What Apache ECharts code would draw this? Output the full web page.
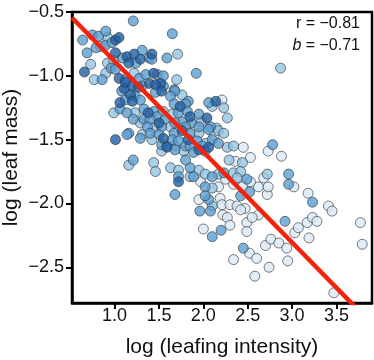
<!DOCTYPE html>
<html>
<head>
<meta charset="utf-8">
<script src="https://cdn.jsdelivr.net/npm/echarts@6/dist/echarts.min.js"></script>
<style>
  html, body { margin: 0; padding: 0; background: #fff; }
  #chart { width: 374px; height: 360px; }
</style>
</head>
<body>
<div id="chart"></div>
<script>
// [log leafing intensity, log leaf mass], grouped by colour shade
var darkPoints = [
    [1.01, -0.72], [1.05, -0.70], [1.14, -0.85], [1.22, -0.83], [1.29, -0.87], [1.16, -0.90],
    [1.05, -1.02], [1.39, -1.06], [1.11, -1.10], [1.20, -1.08], [1.42, -0.83], [1.44, -0.98],
    [1.52, -1.06], [1.46, -1.07], [1.12, -1.05], [1.27, -1.09], [1.18, -1.15], [1.53, -1.12],
    [1.06, -1.21], [1.20, -1.20], [1.38, -1.29], [1.50, -1.37], [1.55, -1.49], [1.01, -1.50],
    [1.74, -1.24], [2.14, -1.20], [1.85, -1.32], [2.04, -1.33], [1.76, -1.43], [1.83, -1.50],
    [2.06, -1.56], [1.95, -1.58], [1.59, -1.56], [1.72, -1.83], [0.66, -0.97], [1.01, -0.82]
];
var midPoints = [
    [1.21, -0.57], [0.64, -0.72], [0.75, -0.68], [0.82, -0.69], [0.90, -0.65], [0.69, -0.82],
    [0.79, -0.78], [0.90, -0.76], [0.97, -0.74], [0.86, -1.03], [0.96, -0.94], [1.01, -0.95],
    [1.09, -0.86], [1.31, -0.80], [1.24, -0.90], [1.39, -0.86], [1.12, -1.03], [1.28, -1.02],
    [1.35, -0.99], [1.31, -1.08], [1.65, -0.67], [1.59, -0.86], [1.92, -0.98], [1.42, -0.87],
    [1.48, -0.99], [1.55, -1.08], [1.67, -1.11], [1.55, -1.00], [1.08, -1.12], [1.23, -1.16],
    [1.46, -1.13], [1.12, -1.19], [1.29, -1.19], [1.06, -1.26], [1.14, -1.29], [1.33, -1.26],
    [1.44, -1.28], [1.48, -1.32], [1.57, -1.34], [1.21, -1.34], [1.33, -1.34], [1.40, -1.34],
    [1.53, -1.40], [1.37, -1.40], [1.16, -1.45], [1.14, -1.46], [1.40, -1.45], [1.50, -1.46],
    [1.29, -1.49], [1.53, -1.54], [1.59, -1.55], [1.68, -1.12], [1.63, -1.16], [1.83, -1.20],
    [1.80, -1.22], [1.67, -1.22], [2.06, -1.21], [1.72, -1.29], [1.82, -1.28], [1.95, -1.30],
    [1.76, -1.36], [1.87, -1.37], [1.68, -1.37], [1.80, -1.40], [1.95, -1.40], [2.08, -1.40],
    [1.67, -1.45], [1.85, -1.45], [2.06, -1.42], [1.65, -1.50], [1.72, -1.51], [1.93, -1.51],
    [2.10, -1.50], [2.17, -1.53], [1.80, -1.55], [1.99, -1.55], [1.85, -1.55], [2.02, -1.59],
    [1.89, -1.60], [1.85, -1.72], [1.89, -1.79], [2.10, -1.79], [2.23, -1.76], [2.49, -1.81],
    [2.02, -1.87], [2.06, -1.97], [2.42, -1.94], [1.21, -1.66], [1.68, -1.58], [1.72, -1.79],
    [1.68, -1.93], [1.80, -1.66], [1.96, -2.06], [2.08, -2.06], [2.10, -2.26], [2.20, -2.21],
    [2.02, -1.94], [2.52, -1.91], [2.45, -2.35], [2.92, -2.14], [2.96, -1.85], [3.23, -1.99],
    [2.96, -1.77], [2.78, -1.54]
];
var lightPoints = [
    [0.92, -0.70], [0.84, -0.77], [0.73, -0.91], [0.77, -1.03], [0.90, -0.98], [0.92, -0.90],
    [1.22, -0.98], [1.71, -0.83], [1.70, -1.03], [0.99, -0.88], [0.99, -1.29], [1.23, -1.29],
    [1.55, -1.28], [1.29, -1.37], [1.44, -1.41], [1.31, -1.46], [1.42, -1.50], [1.76, -1.15],
    [2.10, -1.24], [1.65, -1.30], [2.23, -1.25], [1.97, -1.36], [1.63, -1.40], [2.15, -1.41],
    [2.27, -1.33], [1.95, -1.45], [2.17, -1.43], [2.23, -1.45], [2.02, -1.53], [1.68, -1.55],
    [2.27, -1.56], [2.34, -1.55], [2.29, -1.66], [2.44, -1.68], [1.95, -1.74], [2.02, -1.77],
    [1.85, -1.79], [2.17, -1.77], [2.34, -1.76], [2.42, -1.75], [2.38, -1.80], [2.10, -1.88],
    [2.10, -2.02], [1.16, -1.70], [1.44, -1.68], [1.46, -1.75], [1.53, -1.59], [1.78, -1.59],
    [1.63, -1.72], [1.72, -1.74], [2.72, -1.77], [2.87, -0.94]
];
var palePoints = [
    [2.21, -1.19], [2.12, -1.47], [2.45, -1.56], [2.53, -1.64], [2.36, -1.67], [1.97, -1.83],
    [2.25, -1.81], [2.17, -1.87], [2.34, -1.85], [2.44, -1.87], [1.95, -1.97], [2.19, -1.96],
    [2.21, -2.01], [2.30, -2.01], [2.38, -2.02], [2.47, -2.04], [2.00, -2.20], [2.22, -2.09],
    [2.27, -2.11], [2.30, -2.17], [2.42, -2.05], [2.49, -2.15], [2.49, -2.22], [2.62, -2.09],
    [2.62, -1.87], [2.72, -1.93], [2.34, -2.44], [2.52, -2.39], [2.60, -2.43], [2.58, -2.57],
    [2.74, -2.50], [2.70, -2.33], [2.76, -2.28], [2.85, -2.31], [2.94, -2.35], [2.95, -2.45],
    [3.02, -1.87], [3.03, -2.23], [3.07, -2.19], [3.18, -1.92], [3.19, -2.27], [3.17, -2.15],
    [3.23, -2.11], [3.28, -2.14], [3.41, -2.02], [3.45, -2.06], [3.47, -2.70], [3.77, -2.15],
    [3.79, -2.32], [2.88, -1.63], [2.73, -1.59], [2.68, -1.80], [2.73, -1.87], [2.55, -2.11],
    [2.53, -1.83]
];

var xTicks = [1.0, 1.5, 2.0, 2.5, 3.0, 3.5];
var yTicks = [-2.5, -2.0, -1.5, -1.0, -0.5];

// fitted line: y = intercept + slope * x
var fitSlope = -0.71;
var fitIntercept = -0.176;
var fitR = -0.81;
var xRange = [0.52, 3.9];
var yRange = [-2.78, -0.5];

var FONT = 'Liberation Sans, Arial, sans-serif';

function fmt(v) {
    return v.toFixed(2).replace('-', '\u2212');
}

function scatterSeries(data, color) {
    return {
        type: 'scatter',
        data: data,
        symbolSize: 10,
        itemStyle: {
            color: color,
            opacity: 0.8,
            borderColor: '#333',
            borderWidth: 0.8
        },
        silent: true
    };
}

var fitLine = xRange.map(function (x) {
    return [x, fitIntercept + fitSlope * x];
});

var myChart = echarts.init(document.getElementById('chart'));

var option = {
    animation: false,
    grid: {
        left: 72,
        right: 2,
        top: 12,
        bottom: 57,
        containLabel: false,
        outerBoundsMode: 'none',
        show: true,
        borderColor: '#000',
        borderWidth: 2.5
    },
    xAxis: {
        type: 'value',
        min: xRange[0],
        max: xRange[1],
        name: 'log (leafing intensity)',
        nameLocation: 'middle',
        nameGap: 34,
        nameMoveOverlap: false,
        nameTextStyle: { fontFamily: FONT, fontSize: 21, color: '#111' },
        splitLine: { show: false },
        axisLine: { show: true, lineStyle: { color: '#000', width: 2.5 } },
        axisTick: { show: true, length: 6, lineStyle: { color: '#000', width: 2 }, customValues: xTicks },
        axisLabel: {
            fontFamily: FONT, fontSize: 18, color: '#111', margin: 4,
            customValues: xTicks,
            formatter: function (v) { return v.toFixed(1); }
        }
    },
    yAxis: {
        type: 'value',
        min: yRange[0],
        max: yRange[1],
        name: 'log (leaf mass)',
        nameLocation: 'middle',
        nameGap: 50,
        nameMoveOverlap: false,
        nameTextStyle: { fontFamily: FONT, fontSize: 21, color: '#111' },
        splitLine: { show: false },
        axisLine: { show: true, lineStyle: { color: '#000', width: 2.5 } },
        axisTick: { show: true, length: 6, lineStyle: { color: '#000', width: 2 }, customValues: yTicks },
        axisLabel: {
            fontFamily: FONT, fontSize: 18, color: '#111', margin: 8,
            customValues: yTicks,
            formatter: function (v) { return v.toFixed(1).replace('-', '\u2212'); }
        }
    },
    series: [
        scatterSeries(palePoints, '#dae8f6'),
        scatterSeries(lightPoints, '#93c4e4'),
        scatterSeries(midPoints, '#5a9fd2'),
        scatterSeries(darkPoints, '#1f5fa5'),
        {
            type: 'line',
            data: fitLine,
            symbol: 'none',
            clip: true,
            z: 5,
            lineStyle: { color: '#f5230c', width: 4.5 },
            silent: true
        }
    ],
    graphic: [
        {
            type: 'text',
            right: 14,
            top: 16,
            style: {
                text: 'r = ' + fmt(fitR),
                font: '16px ' + FONT,
                fill: '#111',
                textAlign: 'right'
            }
        },
        {
            type: 'text',
            right: 14,
            top: 38,
            style: {
                text: '{i|b} = ' + fmt(fitSlope),
                font: '16px ' + FONT,
                fill: '#111',
                textAlign: 'right',
                rich: {
                    i: { fontStyle: 'italic', fontSize: 16, fontFamily: FONT, fill: '#111' }
                }
            }
        }
    ]
};

if (option && typeof option === "object") {
    myChart.setOption(option, true);
}
</script>
</body>
</html>
